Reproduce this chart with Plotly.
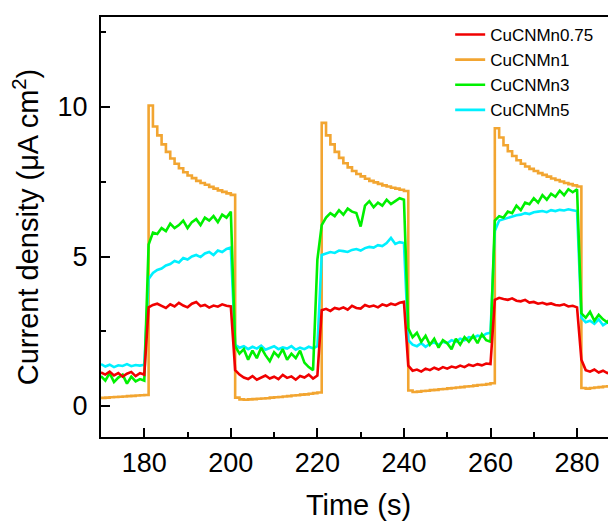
import plotly.graph_objects as go

# time axis (s), one reading per second
time_s = list(range(170, 291))

cucnmn075 = [
    1.12, 1.05, 1.15, 1.02, 1.10, 0.98, 1.08, 1.14, 1.00, 1.10, 1.05,
    3.30, 3.38, 3.42, 3.35, 3.28, 3.40, 3.33, 3.45, 3.36, 3.30,
    3.42, 3.48, 3.34, 3.38, 3.29, 3.36, 3.32, 3.40, 3.35, 3.33,
    1.20,
    1.05, 0.95, 0.90, 1.00, 0.88, 0.96, 1.02, 0.92, 0.98, 0.90,
    1.04, 0.94, 0.99, 0.88, 1.00, 0.95, 1.05, 0.92, 1.02,
    3.20, 3.25, 3.18, 3.28, 3.24, 3.30, 3.22, 3.35, 3.28, 3.26,
    3.38, 3.32, 3.36, 3.30, 3.40, 3.35, 3.42, 3.38, 3.45, 3.48,
    1.35,
    1.18, 1.22, 1.15, 1.25, 1.20, 1.28, 1.22, 1.30, 1.25, 1.32,
    1.28, 1.35, 1.30, 1.38, 1.34, 1.40, 1.36, 1.42, 1.40,
    3.55, 3.62, 3.58, 3.55, 3.60, 3.52, 3.50, 3.55, 3.46, 3.48,
    3.42, 3.45, 3.40, 3.43, 3.38, 3.36, 3.40, 3.33, 3.35, 3.30,
    1.55, 1.20, 1.15, 1.22, 1.12, 1.18, 1.10, 1.16, 1.20, 1.15,
]

cucnmn1 = [
    0.27, 0.28, 0.29, 0.30, 0.31, 0.32, 0.33, 0.34, 0.35, 0.36, 0.37,
    10.05, 9.35, 9.05, 8.75, 8.50, 8.28, 8.10, 7.95, 7.82, 7.71,
    7.62, 7.53, 7.46, 7.40, 7.33, 7.27, 7.21, 7.16, 7.11, 7.06,
    0.28, 0.22, 0.21, 0.22, 0.23, 0.24, 0.25, 0.26, 0.28, 0.29,
    0.30, 0.32, 0.33, 0.35, 0.36, 0.38, 0.39, 0.41, 0.43, 0.45,
    9.47, 9.05, 8.75, 8.50, 8.30, 8.12, 7.98, 7.86, 7.76, 7.68,
    7.60, 7.53, 7.48, 7.43, 7.38, 7.34, 7.30, 7.27, 7.23, 7.19,
    0.52, 0.47, 0.48, 0.50, 0.51, 0.53, 0.54, 0.56, 0.57, 0.59,
    0.60, 0.62, 0.63, 0.65, 0.66, 0.68, 0.70, 0.71, 0.73, 0.76,
    9.29, 8.98, 8.72, 8.52, 8.36, 8.22, 8.10, 8.01, 7.93, 7.86,
    7.79, 7.73, 7.67, 7.61, 7.56, 7.51, 7.46, 7.42, 7.38, 7.34,
    0.60, 0.58, 0.60, 0.62, 0.63, 0.65, 0.66, 0.68, 0.69, 0.71,
]

cucnmn3 = [
    1.00, 0.85, 1.10, 0.80, 0.95, 1.05, 0.75, 0.98, 0.82, 0.90, 0.85,
    5.40, 5.80, 5.75, 5.95, 5.85, 6.10, 5.95, 6.05, 6.20, 5.95,
    6.15, 6.25, 6.05, 6.30, 6.20, 6.35, 6.15, 6.40, 6.30, 6.50,
    2.00,
    1.75, 1.90, 1.55, 1.85, 1.60, 1.95, 1.70, 1.50, 1.80, 1.65,
    1.90, 1.55, 1.75, 1.60, 1.85, 1.45, 1.30, 1.20,
    4.90,
    6.05, 6.30, 6.45, 6.35, 6.55, 6.40, 6.60, 6.50, 6.45, 6.00,
    6.70, 6.85, 6.65, 6.80, 6.70, 6.90, 6.75, 6.85, 6.95, 6.90,
    2.60,
    2.30, 2.45, 2.15, 2.35, 2.05, 2.25, 1.95, 2.20, 2.10, 1.90,
    2.25, 2.05, 2.30, 2.15, 2.35, 2.10, 2.40, 2.20, 2.15,
    6.20, 6.35, 6.30, 6.50, 6.45, 6.70, 6.55, 6.80, 6.75, 6.95,
    6.80, 7.05, 6.90, 7.10, 7.00, 7.20, 7.05, 7.25, 7.15, 7.25,
    3.10, 2.95, 3.15, 2.85, 3.05, 2.90, 2.80, 3.00, 2.85, 2.95,
]

cucnmn5 = [
    1.40, 1.32, 1.38, 1.30, 1.36, 1.34, 1.40, 1.33, 1.37, 1.35, 1.38,
    4.25, 4.45, 4.55, 4.60, 4.70, 4.75, 4.85, 4.80, 4.95, 4.90,
    5.00, 5.05, 4.98, 5.10, 5.15, 5.05, 5.20, 5.15, 5.25, 5.30,
    2.05,
    1.95, 2.00, 1.90, 1.98, 1.92, 2.02, 1.88, 1.95, 2.00, 1.90,
    1.96, 1.92, 2.00, 1.88, 1.95, 1.90, 1.98, 1.93,
    2.00,
    5.05, 5.10, 5.15, 5.12, 5.20, 5.18, 5.15, 5.22, 5.25, 5.20,
    5.28, 5.32, 5.30, 5.38, 5.35, 5.45, 5.62, 5.42, 5.48, 5.45,
    2.20,
    2.05, 2.00, 2.10, 1.98, 2.08, 2.12, 2.05, 2.15, 2.10, 2.20,
    2.15, 2.25, 2.20, 2.30, 2.28, 2.35, 2.32, 2.42, 2.45,
    5.85, 6.20, 6.25, 6.30, 6.35, 6.38, 6.40, 6.45, 6.42, 6.48,
    6.50, 6.52, 6.48, 6.55, 6.52, 6.56, 6.54, 6.58, 6.55, 6.52,
    2.95, 2.80, 2.85, 2.75, 2.90, 2.70, 2.80, 2.72, 2.85, 2.78,
]

FONT = "Liberation Sans, Arial, sans-serif"

fig = go.Figure()

# drawing order: orange under the noisy traces, green above cyan
fig.add_trace(go.Scatter(x=time_s, y=cucnmn1, name="CuCNMn1", mode="lines",
                         line=dict(color="#F2A531", width=2.6, shape="hv"),
                         legendrank=2))
fig.add_trace(go.Scatter(x=time_s, y=cucnmn5, name="CuCNMn5", mode="lines",
                         line=dict(color="#00F0FF", width=2.6),
                         legendrank=4))
fig.add_trace(go.Scatter(x=time_s, y=cucnmn3, name="CuCNMn3", mode="lines",
                         line=dict(color="#00F000", width=2.6),
                         legendrank=3))
fig.add_trace(go.Scatter(x=time_s, y=cucnmn075, name="CuCNMn0.75", mode="lines",
                         line=dict(color="#F00000", width=2.6),
                         legendrank=1))

axis_common = dict(
    showline=True, linecolor="black", linewidth=2,
    ticks="inside", ticklen=9, tickwidth=2, tickcolor="black",
    showgrid=False, zeroline=False, automargin=False,
    tickfont=dict(family=FONT, size=27, color="black"),
)

fig.update_xaxes(
    range=[170, 289], dtick=20, tick0=0, mirror=True,
    minor=dict(ticks="inside", ticklen=5, tickwidth=2, tickcolor="black", dtick=10),
    title=dict(text="Time (s)", font=dict(family=FONT, size=29, color="black"),
               standoff=17),
    ticklabelstandoff=1,
    **axis_common,
)
fig.update_yaxes(
    range=[-1.037, 13.01], dtick=5, tick0=0, mirror=False,
    minor=dict(ticks="inside", ticklen=5, tickwidth=2, tickcolor="black", dtick=2.5),
    title=dict(text="Current density (\u03bcA cm<sup>2</sup>)",
               font=dict(family=FONT, size=29, color="black"), standoff=10),
    ticklabelstandoff=6,
    **axis_common,
)

# the page body adds an 8 px offset, so the figure is sized to land
# the axes where the reference has them
fig.update_layout(
    width=608, height=514,
    margin=dict(l=93, r=0, t=9, b=85),
    paper_bgcolor="white", plot_bgcolor="white",
    showlegend=True,
    legend=dict(x=0.678, y=1.0, xanchor="left", yanchor="top",
                font=dict(family=FONT, size=17, color="black"),
                bgcolor="rgba(0,0,0,0)", tracegroupgap=0),
)

fig.write_html("out.html")
